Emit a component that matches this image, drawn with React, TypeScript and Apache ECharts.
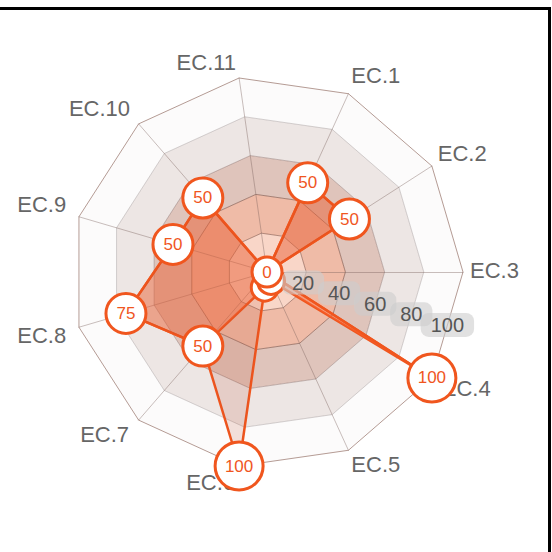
import React, { useEffect, useRef } from "react";
import * as echarts from "echarts";

// Indicators listed counter-clockwise starting from the right-hand axis
const indicatorNames = ["EC.3", "EC.2", "EC.1", "EC.11", "EC.10", "EC.9", "EC.8", "EC.7", "EC.6", "EC.5", "EC.4"];
const indicatorMax = [100, 100, 100, 100, 100, 100, 100, 100, 100, 100, 100];
const brightValues = [0, 50, 50, 0, 50, 50, 75, 50, 8, 5, 100];
const mutedValues = [0, 50, 50, 0, 50, 50, 75, 50, 100, 0, 100];
const tickLabels = [0, 20, 40, 60, 80, 100];

const FONT = "'Liberation Sans', Arial, Helvetica, sans-serif";
const ORANGE = "#f0561e";
const ringColors = ["#f9d6c8", "#efbba7", "#dfc4bb", "#ede6e4", "#fcfbfb"];
const ringLineColors = [
  "rgba(120,75,62,0.55)",
  "rgba(120,75,62,0.55)",
  "rgba(120,75,62,0.6)",
  "rgba(130,105,100,0.45)",
  "rgba(160,150,150,0.45)",
];
const bubbleSizes = [30, 40, 48];
// fine placement of the axis names (padding: top, right, bottom, left)
const namePadding: Record<string, number[]> = {
  "EC.3": [0, 0, 3, 0],
  "EC.2": [0, 0, 18, 0],
  "EC.1": [0, 0, 24, 0],
  "EC.11": [0, 2, 18, 0],
  "EC.10": [0, 4, 21, 0],
  "EC.9": [0, 6, 21, 0],
  "EC.8": [13, 6, 0, 0],
  "EC.7": [18, 5, 0, 0],
  "EC.6": [20, 3, 0, 0],
  "EC.5": [16, 0, 0, 0],
  "EC.4": [13, 0, 0, 4],
};

export default function App() {
  const ref = useRef<HTMLDivElement>(null);

  useEffect(() => {
    const chart = echarts.init(ref.current!, null, { renderer: "svg" });

    const rich: Record<string, any> = {};
    bubbleSizes.forEach((size, i) => {
      const d = size - 3;
      rich["s" + (i + 1)] = {
        width: d,
        height: d,
        lineHeight: d,
        align: "center",
        verticalAlign: "middle",
        backgroundColor: "#ffffff",
        borderColor: ORANGE,
        borderWidth: 3,
        borderRadius: d,
        color: ORANGE,
        fontSize: 17,
        fontFamily: FONT,
      };
    });

    const lastZero = mutedValues.lastIndexOf(0);
    const bubbleLabel = {
      show: true,
      position: "inside",
      formatter: (p: any) => {
        const v = p.value;
        if (v === 0 && p.dimensionIndex != null && p.dimensionIndex !== lastZero) return "";
        const s = String(v);
        return `{s${Math.min(s.length, 3)}|${s}}`;
      },
      rich,
    };

    const nameRich: Record<string, any> = {};
    indicatorNames.forEach((n, i) => {
      nameRich["n" + i] = {
        color: "#666666",
        fontSize: 22,
        fontFamily: FONT,
        padding: namePadding[n] || [0, 0, 0, 0],
      };
    });

    chart.setOption({
      animation: false,
      textStyle: { fontFamily: FONT },
      radar: {
        center: [267, 272],
        radius: 196,
        startAngle: 0,
        splitNumber: 5,
        shape: "polygon",
        nameGap: 7,
        indicator: indicatorNames.map((name, i) => ({ name, min: 0, max: indicatorMax[i] })),
        axisName: {
          color: "#666666",
          fontSize: 22,
          fontFamily: FONT,
          formatter: (name: string) => `{n${indicatorNames.indexOf(name)}|${name}}`,
          rich: nameRich,
        },
        splitArea: { show: true, areaStyle: { color: ringColors } },
        splitLine: { lineStyle: { color: ringLineColors, width: 1 } },
        axisLine: { lineStyle: { color: "rgba(120,95,90,0.4)", width: 1 } },
      },
      polar: { center: [267, 272], radius: 188 },
      angleAxis: { type: "value", startAngle: -16.36, min: 0, max: 360, show: false },
      radiusAxis: {
        type: "category",
        data: tickLabels.map(String),
        boundaryGap: false,
        z: 10,
        axisLine: { show: false },
        axisTick: { show: false },
        splitLine: { show: false },
        axisLabel: {
          interval: 0,
          margin: 0,
          align: "center",
          verticalAlign: "middle",
          formatter: (v: string) => (v === "0" ? "" : `{b|${v}}`),
          rich: {
            b: {
              fontSize: 20,
              fontFamily: FONT,
              color: "#555555",
              backgroundColor: "rgba(205,205,205,0.6)",
              borderRadius: 8,
              padding: [2, 10, 2, 10],
            },
          },
        },
      },
      series: [
        {
          type: "radar",
          name: "bright",
          symbol: "circle",
          symbolSize: 27,
          itemStyle: { color: "#ffffff", borderColor: ORANGE, borderWidth: 3 },
          lineStyle: { color: ORANGE, width: 2.5 },
          areaStyle: { color: "rgba(255,105,55,0.56)" },
          label: { show: false },
          emphasis: { disabled: true },
          data: [{ value: brightValues, name: "bright" }],
        },
        {
          type: "radar",
          name: "muted",
          symbol: "circle",
          symbolSize: 2,
          itemStyle: { color: "rgba(0,0,0,0)", borderColor: "rgba(0,0,0,0)" },
          lineStyle: { color: ORANGE, width: 2.5 },
          areaStyle: { color: "rgba(190,75,40,0.22)" },
          label: bubbleLabel,
          emphasis: { disabled: true },
          data: [{ value: mutedValues, name: "muted" }],
        },
      ],
    });

    return () => chart.dispose();
  }, []);

  return (
    <div style={{ position: "fixed", left: 0, top: 0, width: 552, height: 552, background: "#fff", overflow: "hidden" }}>
      <div ref={ref} style={{ position: "absolute", left: 0, top: 0, width: 552, height: 552 }} />
      <div
        style={{
          position: "absolute",
          left: -10,
          top: 7,
          width: 561,
          height: 600,
          boxSizing: "border-box",
          borderTop: "3px solid #000",
          borderRight: "3px solid #000",
          pointerEvents: "none",
        }}
      />
    </div>
  );
}
